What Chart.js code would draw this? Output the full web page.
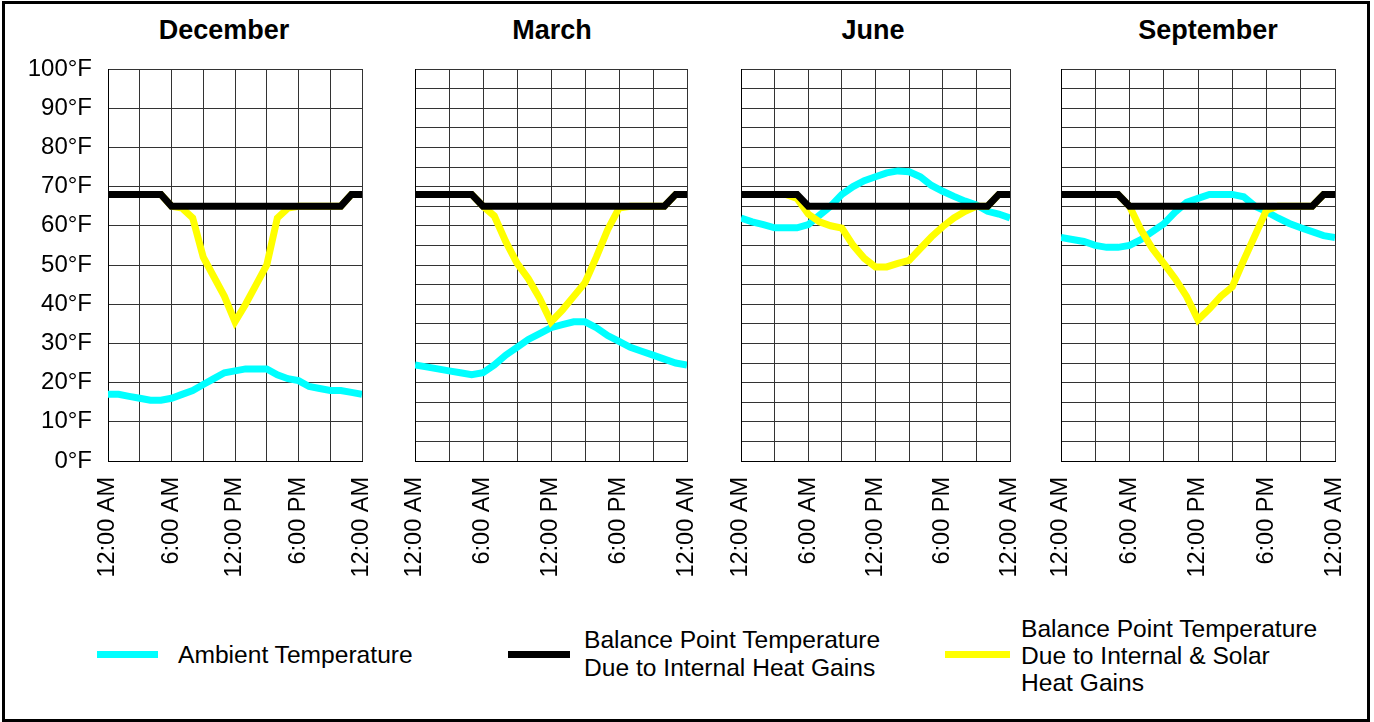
<!DOCTYPE html>
<html lang="en">
<head>
  <meta charset="UTF-8">
  <title>Balance Point Temperatures by Season</title>
  <script src="https://cdn.jsdelivr.net/npm/chart.js"></script>
  <style>
    body {
      margin: 0;
      width: 1374px;
      height: 722px;
      position: relative;
      background: #fff;
      font-family: "Liberation Sans", Arial, sans-serif;
      overflow: hidden;
    }
    .frame {
      position: absolute;
      left: 2px;
      top: 1px;
      width: 1368px;
      height: 721px;
      border: 3px solid #000;
      box-sizing: border-box;
    }
    .month {
      position: absolute;
      top: 14px;
      width: 200px;
      margin-left: -100px;
      text-align: center;
      font-weight: bold;
      font-size: 27px;
      line-height: 32px;
    }
    canvas { position: absolute; top: 49px; }
    .swatch { position: absolute; height: 7px; top: 651px; }
    .legtext {
      position: absolute;
      font-size: 24.6px;
      color: #000;
    }
  </style>
</head>
<body>
  <div class="frame"></div>

  <div class="month" style="left:224px">December</div>
  <div class="month" style="left:552px">March</div>
  <div class="month" style="left:873px">June</div>
  <div class="month" style="left:1208px">September</div>

  <canvas id="decChart" width="372" height="560" style="left:10px"></canvas>
  <canvas id="marChart" width="312" height="560" style="left:395px"></canvas>
  <canvas id="junChart" width="309" height="560" style="left:721px"></canvas>
  <canvas id="sepChart" width="314" height="560" style="left:1041px"></canvas>

  <div class="swatch" style="left:97px;width:61px;background:#00ffff"></div>
  <div class="legtext" style="left:178px;top:641px;line-height:28px">Ambient Temperature</div>
  <div class="swatch" style="left:508px;width:62px;background:#000"></div>
  <div class="legtext" style="left:584px;top:626px;line-height:28px">Balance Point Temperature<br>Due to Internal Heat Gains</div>
  <div class="swatch" style="left:945px;width:65px;background:#ffff00"></div>
  <div class="legtext" style="left:1021px;top:615px;line-height:27px">Balance Point Temperature<br>Due to Internal &amp; Solar<br>Heat Gains</div>

  <script>
    // hour of day, 0 = midnight ... 24 = next midnight
    const hours = [0,1,2,3,4,5,6,7,8,9,10,11,12,13,14,15,16,17,18,19,20,21,22,23,24];
    const tickLabels = { 0: "12:00 AM", 6: "6:00 AM", 12: "12:00 PM", 18: "6:00 PM", 24: "12:00 AM" };

    // balance point, internal gains only (same every month)
    const internalGains = [68,68,68,68,68,68,65,65,65,65,65,65,65,65,65,65,65,65,65,65,65,65,65,68,68];

    const decAmbient = [17,17,16.5,16,15.5,15.5,16,17,18,19.5,21,22.5,23,23.5,23.5,23.5,22,21,20.5,19,18.5,18,18,17.5,17];
    const decSolar   = [68,68,68,68,68,68,65,64.5,62,52,47,42,35.5,40,45,50,62,64.5,65,65,65,65,65,68,68];

    const marAmbient = [24.5,24,23.5,23,22.5,22,22.5,24.5,27,29,31,32.5,34,34.8,35.5,35.5,34,32,30.5,29,28,27,26,25,24.5];
    const marSolar   = [68,68,68,68,68,68,65,62.5,56,50.5,46.5,41.5,35.5,38.5,42,45.5,52,59,64.5,65,65,65,65,68,68];

    const junAmbient = [62,61,60.3,59.5,59.5,59.5,60.3,62.7,65,68,70,71.5,72.5,73.5,74,73.8,72.5,70.3,68.8,67.5,66.3,65.3,63.7,63,62];
    const junSolar   = [68,68,68,68,68,67,63,61,60,59.4,55,51.7,49.5,49.5,50.4,51.2,54.2,57.2,59.8,62,63.7,65,65,68,68];

    const sepAmbient = [57,56.5,56,55,54.5,54.5,55,56.5,58.5,60.5,63.5,66,67,68,68,68,67.4,65,63.6,62,60.6,59.5,58.5,57.5,57];
    const sepSolar   = [68,68,68,68,68,68,65,59,54.2,50.4,46.5,42,36,38.8,42,44.4,51.2,57.6,64,65,65,65,65,68,68];

    Chart.defaults.font.family = "'Liberation Sans', Arial, sans-serif";
    Chart.defaults.color = "#000";

    function pts(vals) {
      return hours.map((h, i) => ({ x: h, y: vals[i] }));
    }

    // drop the label overhang padding so layout.padding alone places the plot box
    function noPad(s) {
      s.paddingLeft = 0;
      s.paddingRight = 0;
      s.paddingTop = 0;
      s.paddingBottom = 0;
    }

    function makeChart(id, ambient, solar, showY) {
      const ctx = document.getElementById(id).getContext("2d");
      return new Chart(ctx, {
        type: "line",
        data: {
          datasets: [
            { label: "Ambient Temperature", data: pts(ambient), borderColor: "#00ffff", borderWidth: 7, order: 3 },
            { label: "Balance Point Temperature Due to Internal & Solar Heat Gains", data: pts(solar), borderColor: "#ffff00", borderWidth: 7, order: 2 },
            { label: "Balance Point Temperature Due to Internal Heat Gains", data: pts(internalGains), borderColor: "#000000", borderWidth: 7, order: 1 }
          ]
        },
        options: {
          responsive: false,
          animation: false,
          devicePixelRatio: 1,
          layout: { padding: { top: 20, right: 20, bottom: 0, left: showY ? 0 : 20 } },
          elements: { point: { radius: 0 }, line: { tension: 0, fill: false } },
          plugins: { legend: { display: false }, tooltip: { enabled: false } },
          scales: {
            x: {
              type: "linear",
              min: 0,
              max: 24,
              afterFit: s => { s.height = 148; noPad(s); },
              grid: { color: "#333", lineWidth: 1, drawTicks: false },
              border: { color: "#000" },
              ticks: {
                stepSize: 3,
                autoSkip: false,
                minRotation: 90,
                maxRotation: 90,
                padding: 16,
                font: { size: 23.5 },
                callback: v => tickLabels[v] || ""
              }
            },
            y: {
              min: 0,
              max: 100,
              afterFit: s => { s.width = showY ? 98 : 0; noPad(s); },
              grid: { color: "#333", lineWidth: 1, drawTicks: false },
              border: { color: "#000" },
              ticks: {
                display: showY,
                stepSize: 5,
                padding: 16,
                font: { size: 24 },
                callback: v => (v % 10 === 0 ? v + "°F" : "")
              }
            }
          }
        }
      });
    }

    makeChart("decChart", decAmbient, decSolar, true);
    makeChart("marChart", marAmbient, marSolar, false);
    makeChart("junChart", junAmbient, junSolar, false);
    makeChart("sepChart", sepAmbient, sepSolar, false);
  </script>
</body>
</html>
